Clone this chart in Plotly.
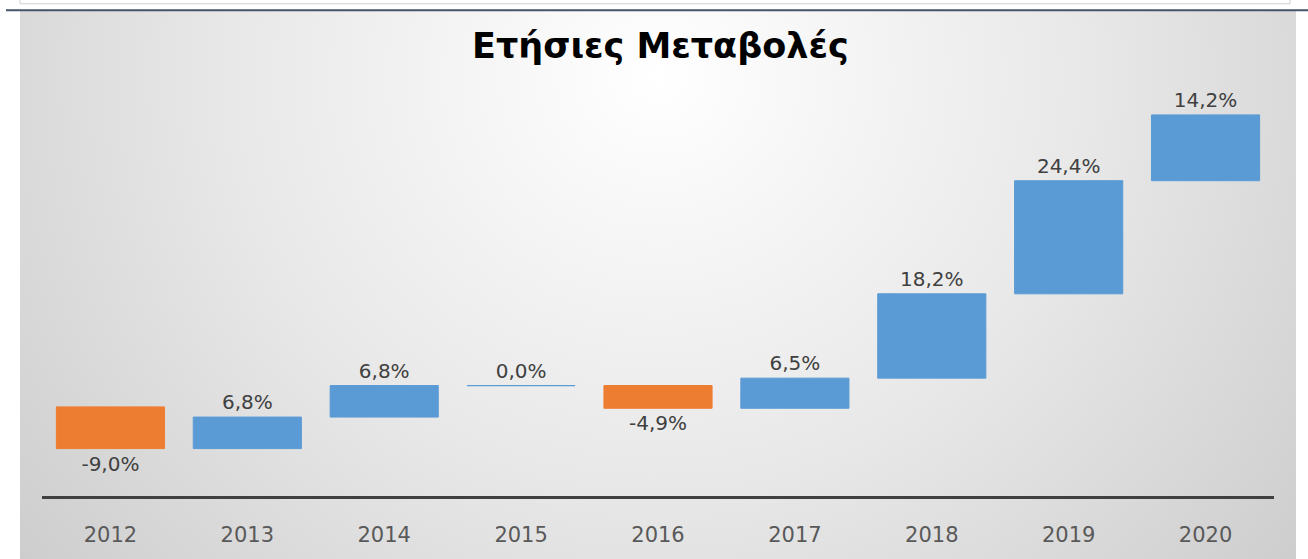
import base64
import numpy as np
import plotly.graph_objects as go

# ---- data ----
years = ["2012", "2013", "2014", "2015", "2016", "2017", "2018", "2019", "2020"]
changes = [-9.0, 6.8, 6.8, 0.0, -4.9, 6.5, 18.2, 24.4, 14.2]
title_text = "Ετήσιες Μεταβολές"

labels = [f"{v:.1f}".replace(".", ",") + "%" for v in changes]
cumulative = np.cumsum(changes)

# ---- layout geometry (pixels) ----
W, H = 1308, 559
ML, MR, MT, MB = 42, 34, 82, 59
PW, PH = W - ML - MR, H - MT - MB
GAP = 0.21


def px(x):
    return (x - ML) / PW


def py(y):
    return (H - MB - y) / PH


BLUE = "#5B9BD5"
ORANGE = "#ED7D31"

svg = (
    '<svg xmlns="http://www.w3.org/2000/svg" width="1276" height="549" '
    'viewBox="0 0 1276 549" preserveAspectRatio="none">'
    '<defs><radialGradient id="g" cx="0.5" cy="0.12" r="0.75" '
    'gradientTransform="translate(0.5,0.12) scale(1,2.2) translate(-0.5,-0.12)">'
    '<stop offset="0" stop-color="#ffffff"/>'
    '<stop offset="0.45" stop-color="#e8e8e8"/>'
    '<stop offset="1" stop-color="#c4c4c4"/>'
    '</radialGradient></defs>'
    '<rect x="0" y="0" width="1276" height="549" fill="url(#g)"/></svg>'
)
bg_uri = "data:image/svg+xml;base64," + base64.b64encode(svg.encode()).decode()

fig = go.Figure(
    go.Waterfall(
        x=years,
        y=changes,
        measure=["relative"] * len(changes),
        text=labels,
        textposition="outside",
        textfont=dict(family="DejaVu Sans", size=20, color="#404040"),
        increasing=dict(marker=dict(color=BLUE, line=dict(color=BLUE, width=1))),
        decreasing=dict(marker=dict(color=ORANGE, line=dict(color=ORANGE, width=1))),
        connector=dict(visible=False),
        cliponaxis=False,
        hoverinfo="skip",
    )
)

# zero-change steps are drawn as a thin line (as in the original chart)
zero_lines = [
    dict(
        type="line",
        xref="x",
        yref="y",
        x0=i - (1 - GAP) / 2,
        x1=i + (1 - GAP) / 2,
        y0=cumulative[i],
        y1=cumulative[i],
        line=dict(color=BLUE, width=1.2),
        layer="above",
    )
    for i, v in enumerate(changes)
    if v == 0
]

fig.update_layout(
    width=W,
    height=H,
    margin=dict(l=ML, r=MR, t=MT, b=MB, pad=0),
    paper_bgcolor="white",
    plot_bgcolor="rgba(0,0,0,0)",
    showlegend=False,
    waterfallgap=GAP,
    xaxis=dict(
        showgrid=False,
        zeroline=False,
        showline=True,
        linecolor="#404040",
        linewidth=3,
        ticks="",
        ticklabelstandoff=18,
        tickfont=dict(family="DejaVu Sans", size=21, color="#595959"),
        fixedrange=True,
    ),
    yaxis=dict(
        range=[-19.23, 70.1],
        visible=False,
        showgrid=False,
        zeroline=False,
        fixedrange=True,
    ),
    images=[
        dict(
            source=bg_uri,
            xref="paper",
            yref="paper",
            x=px(20),
            y=py(10),
            sizex=px(1296) - px(20),
            sizey=py(10) - py(565),
            xanchor="left",
            yanchor="top",
            sizing="stretch",
            layer="below",
        )
    ],
    shapes=[
        dict(
            type="rect",
            xref="paper",
            yref="paper",
            x0=px(20),
            x1=px(1290),
            y0=py(3),
            y1=py(-5),
            line=dict(color="#d0d0d0", width=1),
            fillcolor="white",
            layer="above",
        ),
        dict(
            type="line",
            xref="paper",
            yref="paper",
            x0=px(6),
            x1=px(1308),
            y0=py(9.5),
            y1=py(9.5),
            line=dict(color="#44546A", width=2),
            layer="above",
        ),
    ]
    + zero_lines,
    annotations=[
        dict(
            text=f"<b>{title_text}</b>",
            xref="paper",
            yref="paper",
            x=px(660),
            y=py(46),
            xanchor="center",
            yanchor="middle",
            showarrow=False,
            font=dict(family="DejaVu Sans", size=35, color="#000000"),
        )
    ],
)

fig.write_html(
    "out.html",
    config={"displayModeBar": False},
    post_script="document.body.style.margin='0';",
)
